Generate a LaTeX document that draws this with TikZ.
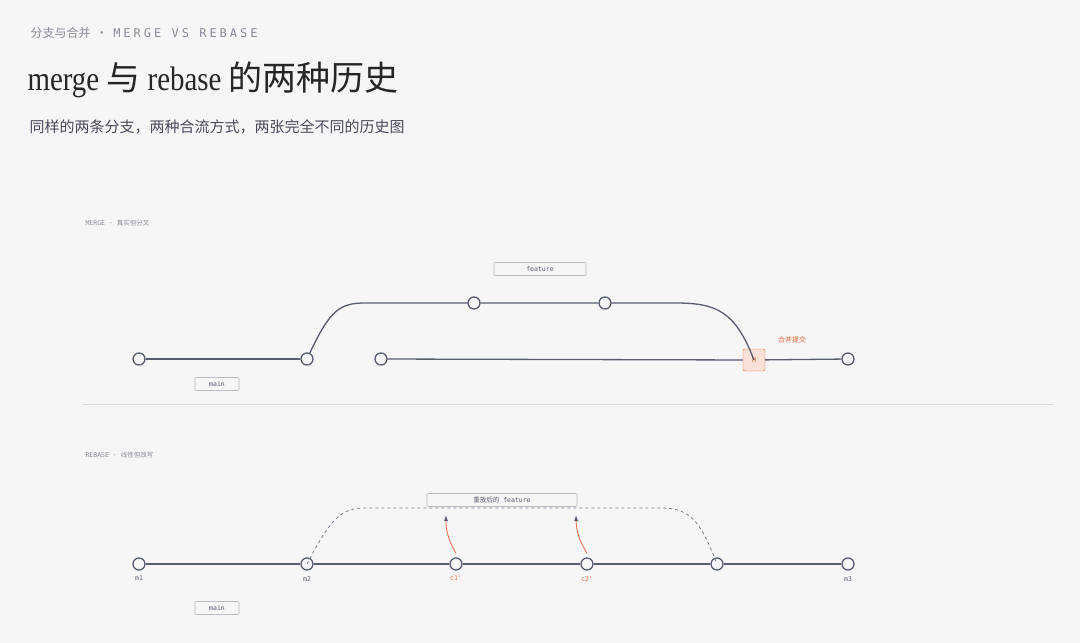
\documentclass[tikz,border=0pt]{standalone}
\usepackage{fontspec}
\setmainfont{Liberation Serif}
\newfontfamily\cjk{Noto Sans CJK SC}
\newfontfamily\monof{DejaVu Sans Mono}
\usetikzlibrary{arrows.meta}
\definecolor{ink}{HTML}{5A5D70}
\definecolor{hot}{HTML}{E8683A}
\definecolor{paper}{HTML}{F6F6F7}
\definecolor{lbl}{HTML}{8A8D98}
\tikzset{
  commit/.style={circle,draw=ink,line width=1.3pt,fill=paper,minimum size=12pt,inner sep=0pt},
  tag/.style={draw=lbl!60,fill=paper,line width=0.6pt,rounded corners=1pt,font=\monof\fontsize{6.5}{7}\selectfont,text=ink,minimum height=13pt,inner sep=0pt},
  branch/.style={ink,line width=1.3pt},
  small/.style={font=\monof\fontsize{6.5}{7}\selectfont,text=ink},
}
\begin{document}
\begin{tikzpicture}[x=1pt,y=-1pt]
	 \fill[paper] (0,0) rectangle (1080,643);
	 % header
	 \node[anchor=west,text=lbl,font=\cjk\fontsize{12}{14}\selectfont] (kicker) at (27,33) {分支与合并 \ · \ \monof\addfontfeature{LetterSpace=25}MERGE VS REBASE};
	 \node[anchor=west,text=black!85,font=\fontsize{34}{38}\selectfont] (title) at (24,80) {\addfontfeature{FakeStretch=0.85}merge {\cjk 与} rebase {\cjk 的两种历史}};
	 \node[anchor=west,text=ink!80!black,font=\cjk\fontsize{15}{18}\selectfont] (sub) at (26,127) {同样的两条分支，两种合流方式，两张完全不同的历史图};
	 % merge
	 \node[anchor=west,small,text=lbl,font=\monof\fontsize{6.5}{7}\selectfont] (mhead) at (82,223) {MERGE · {\cjk 真实但分叉}};
	 \node[commit] (a1) at (139,359) {};
	 \node[commit] (a2) at (307,359) {};
	 \node[commit] (a3) at (381,359) {};
	 \node[commit] (f1) at (474,303) {};
	 \node[commit] (f2) at (605,303) {};
	 \node[draw=hot,fill=hot!20,rounded corners=2pt,minimum size=22pt,inner sep=0pt,text=hot,font=\monof\fontsize{6.5}{7}\selectfont] (mm) at (754,360) {M};
	 \node[commit] (a4) at (848,359) {};
	 \draw[branch] (a1) -- (a2);
	 \draw[branch] (a3) -- (mm) -- (a4);
	 \draw[branch] (a2) .. controls (330,310) and (340,303) .. (365,303) -- (f1) -- (f2) -- (675,303) .. controls (715,303) and (735,310) .. (mm.center);
	 \node[tag,minimum width=92pt] (feat) at (540,269) {feature};
	 \node[tag,minimum width=44pt] (main1) at (217,384) {main};
	 \node[text=hot,font=\cjk\fontsize{7}{8}\selectfont] (mlab) at (792,340) {合并提交};
	 \draw[lbl!30,line width=0.6pt] (83,404) -- (1053,404);
	 % rebase
	 \node[anchor=west,text=lbl,font=\monof\fontsize{6.5}{7}\selectfont] (rhead) at (82,455) {REBASE · {\cjk 线性但改写}};
	 \node[commit,label={[small,yshift=-2pt]below:m1}] (b1) at (139,564) {};
	 \node[commit,label={[small,yshift=-2pt]below:m2}] (b2) at (307,564) {};
	 \node[commit,label={[small,text=hot,yshift=-2pt]below:c1'}] (c1) at (456,564) {};
	 \node[commit,label={[small,text=hot,yshift=-2pt]below:c2'}] (c2) at (587,564) {};
	 \node[commit] (b5) at (717,564) {};
	 \node[commit,label={[small,yshift=-2pt]below:m3}] (b6) at (848,564) {};
	 \draw[branch] (b1) -- (b2) -- (c1) -- (c2) -- (b5) -- (b6);
	 \draw[ink!80,dashed,line width=0.8pt] (b2.center) .. controls (330,520) and (340,508) .. (365,508) -- (660,508) .. controls (690,508) and (700,520) .. (b5.center);
	 \node[tag,minimum width=150pt] (replay) at (502,500) {{\cjk 重放后的} feature};
	 \coordinate (t1) at (446,515);
	 \coordinate (t2) at (576,515);
	 \draw[hot,line width=0.8pt,-{Latex[length=6pt,width=4pt,color=ink]}] (c1.north) ++(0,-4) to[bend left=15] (t1);
	 \draw[hot,line width=0.8pt,-{Latex[length=6pt,width=4pt,color=ink]}] (c2.north) ++(0,-4) to[bend left=15] (t2);
	 \node[tag,minimum width=44pt] (main2) at (217,608) {main};
\end{tikzpicture}
\end{document}
